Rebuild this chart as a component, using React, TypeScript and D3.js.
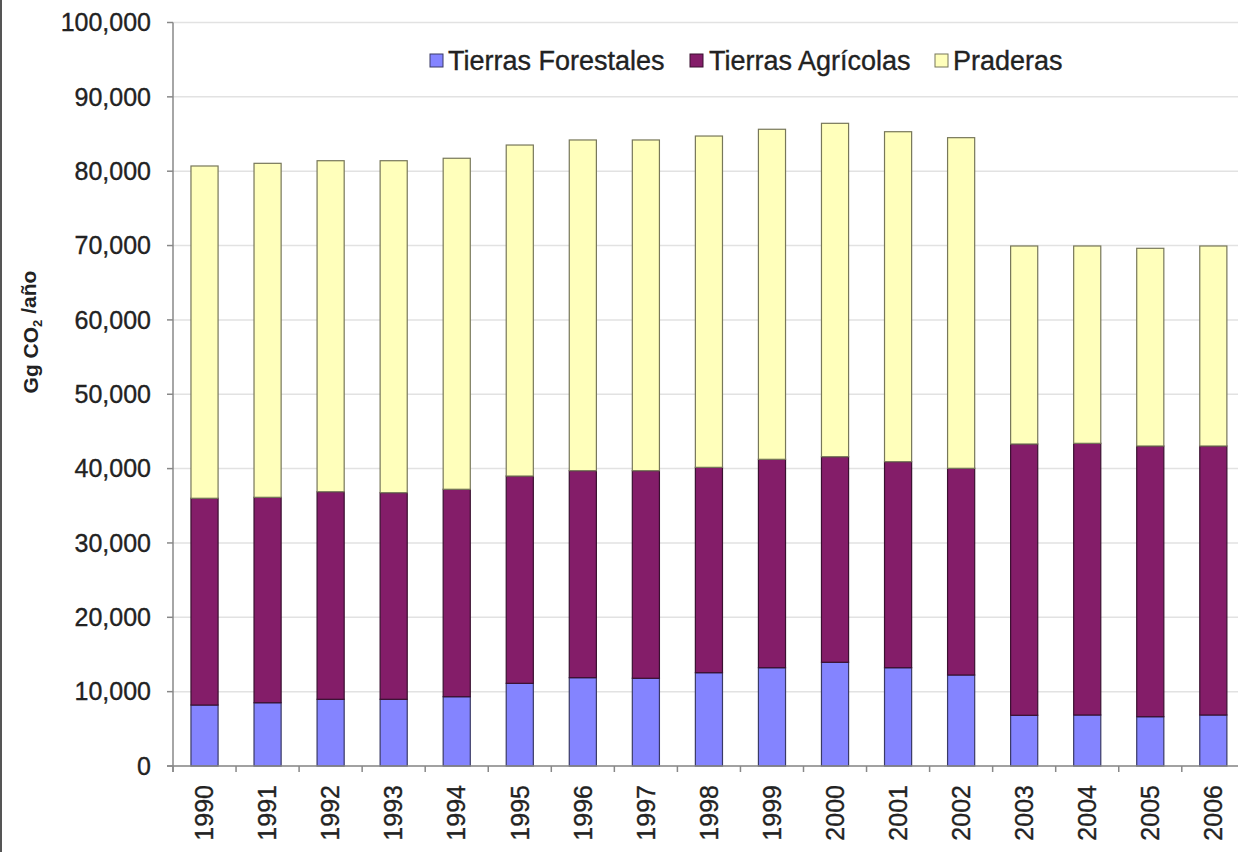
import * as d3 from "d3";

const years = ["1990", "1991", "1992", "1993", "1994", "1995", "1996", "1997", "1998", "1999", "2000", "2001", "2002", "2003", "2004", "2005", "2006"];
const forestales = [8200, 8510, 8970, 8970, 9320, 11120, 11880, 11800, 12550, 13220, 13950, 13220, 12240, 6820, 6860, 6630, 6860];
const agricolas = [27810, 27630, 27920, 27790, 27900, 27880, 27840, 27920, 27620, 28030, 27650, 27710, 27800, 36490, 36540, 36410, 36180];
const praderas = [44690, 44920, 44520, 44650, 44520, 44520, 44480, 44480, 44560, 44390, 44840, 44380, 44470, 26630, 26540, 26590, 26900];
const seriesNames = ["Tierras Forestales", "Tierras Agrícolas", "Praderas"];
const yTickValues = [0, 10000, 20000, 30000, 40000, 50000, 60000, 70000, 80000, 90000, 100000];

export default function App() {
  const width = 1238;
  const height = 852;
  const axisX = 173;
  const step = 63.05;
  const fontFamily = "'Liberation Sans', Arial, sans-serif";

  const colors = ["#8484ff", "#841d69", "#ffffbb"];
  const strokes = ["#3a3a66", "#3a1030", "#77775a"];

  const rows = years.map((y, i) => ({
    year: y,
    [seriesNames[0]]: forestales[i],
    [seriesNames[1]]: agricolas[i],
    [seriesNames[2]]: praderas[i],
  }));
  const stacked = d3.stack<any>().keys(seriesNames)(rows);

  const xScale = d3
    .scaleBand()
    .domain(years)
    .range([axisX, axisX + step * years.length])
    .paddingInner(0.57)
    .paddingOuter(0.285);

  const yScale = d3.scaleLinear().domain([0, 100000]).range([766, 22.5]);
  const fmt = d3.format(",");

  const gap = (xScale.step() - xScale.bandwidth()) / 2;
  const boundaries = years.map((y) => (xScale(y) as number) - gap);
  boundaries.push(boundaries[boundaries.length - 1] + xScale.step());

  // legend positions
  const legend = [
    { swatch: 430, text: 448 },
    { swatch: 690, text: 709 },
    { swatch: 935, text: 953 },
  ];

  const textStyle = { stroke: "#222", strokeWidth: 0.35 };

  return (
    <div style={{ position: "absolute", left: 0, top: 0 }}>
      <svg width={width} height={height} style={{ display: "block", background: "#fff" }}>
        <rect x={0} y={0} width={2} height={height} fill="#555" />

        {/* grid */}
        {yTickValues.map((t) => (
          <line key={t} x1={axisX} x2={width} y1={yScale(t)} y2={yScale(t)} stroke="#e2e2e2" strokeWidth={1.5} />
        ))}

        {/* bars */}
        {stacked.map((layer, si) =>
          layer.map((d, i) => (
            <rect
              key={si + "-" + i}
              x={xScale(years[i])}
              y={yScale(d[1])}
              width={xScale.bandwidth()}
              height={yScale(d[0]) - yScale(d[1])}
              fill={colors[si]}
              stroke={strokes[si]}
              strokeWidth={1.2}
            />
          ))
        )}

        {/* y axis */}
        <line x1={axisX} x2={axisX} y1={yScale(100000)} y2={yScale(0) + 6} stroke="#888" strokeWidth={1.5} />
        {yTickValues.map((t) => (
          <g key={t} transform={`translate(${axisX}, ${yScale(t)})`}>
            <line x1={-6} x2={0} stroke="#888" strokeWidth={1.5} />
            <text x={-22} dy="0.35em" textAnchor="end" fontSize={25} fill="#222" fontFamily={fontFamily} style={textStyle}>
              {fmt(t)}
            </text>
          </g>
        ))}

        {/* x axis */}
        <line x1={axisX - 6} x2={width} y1={yScale(0)} y2={yScale(0)} stroke="#888" strokeWidth={1.5} />
        {boundaries.map((b, i) => (
          <line key={i} x1={b} x2={b} y1={yScale(0)} y2={yScale(0) + 6} stroke="#888" strokeWidth={1.5} />
        ))}
        {years.map((y) => (
          <text
            key={y}
            transform={`translate(${(xScale(y) as number) + xScale.bandwidth() / 2}, 785) rotate(-90)`}
            textAnchor="end"
            dy="0.35em"
            fontSize={25}
            fill="#222"
            fontFamily={fontFamily}
            style={textStyle}
          >
            {y}
          </text>
        ))}

        {/* y axis title */}
        <text
          transform="translate(31, 332) rotate(-90)"
          textAnchor="middle"
          dy="0.35em"
          fontSize={21}
          fontWeight="bold"
          fill="#222"
          fontFamily={fontFamily}
        >
          Gg CO
          <tspan fontSize={13} dy="0.25em">2</tspan>
          <tspan dy="-0.25em"> /año</tspan>
        </text>

        {/* legend */}
        {seriesNames.map((name, i) => (
          <g key={name}>
            <rect x={legend[i].swatch} y={54} width={13} height={13} fill={colors[i]} stroke={strokes[i]} strokeWidth={1} />
            <text x={legend[i].text} y={61} dy="0.35em" fontSize={27} fill="#222" fontFamily={fontFamily} style={textStyle}>
              {name}
            </text>
          </g>
        ))}
      </svg>
    </div>
  );
}
